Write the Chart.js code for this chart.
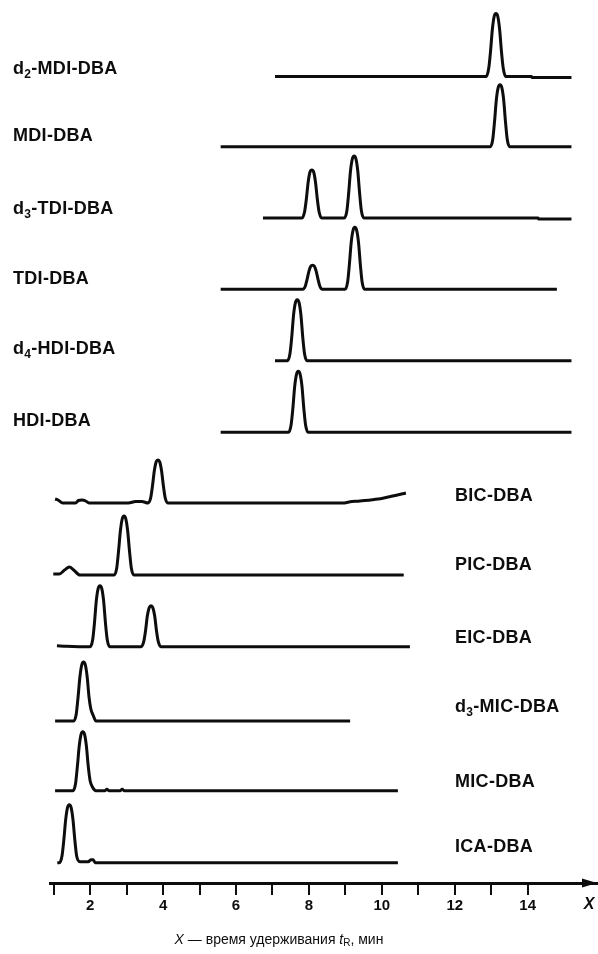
<!DOCTYPE html>
<html><head><meta charset="utf-8">
<script src="https://cdn.jsdelivr.net/npm/chart.js@4.4.1/dist/chart.umd.min.js"></script>
<style>html,body{margin:0;padding:0;background:#fff}canvas{display:block}</style>
</head><body>
<canvas id="c" width="598" height="954"></canvas>
<script>
// ---------------- DATA ----------------
// retention time t_R (min) and detector response (a.u.) for each chromatogram
const compounds = ['d_2-MDI-DBA','MDI-DBA','d_3-TDI-DBA','TDI-DBA','d_4-HDI-DBA','HDI-DBA',
                   'BIC-DBA','PIC-DBA','EIC-DBA','d_3-MIC-DBA','MIC-DBA','ICA-DBA'];

const d2MDI = [[7.07,0],[12.86,0],[12.93,8],[12.98,25],[13.03,47],[13.08,60],[13.13,63],[13.18,60],[13.23,47],[13.28,25],[13.33,8],[13.40,0],[14.10,0],[14.12,-1],[15.20,-1]];
const MDI   = [[5.58,0],[12.97,0],[13.04,7],[13.09,25],[13.14,47],[13.19,59],[13.24,62],[13.29,59],[13.34,47],[13.39,25],[13.44,7],[13.51,0],[15.20,0]];
const d3TDI = [[6.74,0],[7.81,0],[7.88,6],[7.93,19],[7.98,36],[8.03,46],[8.08,48],[8.13,46],[8.18,36],[8.23,19],[8.28,6],[8.35,0],
               [8.97,0],[9.04,7],[9.09,25],[9.14,47],[9.19,59],[9.24,62],[9.29,59],[9.34,47],[9.39,25],[9.44,7],[9.51,0],[14.28,0],[14.30,-1],[15.20,-1]];
const TDI   = [[5.58,0],[7.83,0],[7.90,3],[7.95,10],[8.00,18],[8.05,23],[8.10,24],[8.15,23],[8.20,18],[8.25,10],[8.30,3],[8.37,0],
               [8.99,0],[9.06,7],[9.11,25],[9.16,47],[9.21,59],[9.26,62],[9.31,59],[9.36,47],[9.41,25],[9.46,7],[9.53,0],[14.80,0]];
const d4HDI = [[7.07,0],[7.41,0],[7.48,7],[7.53,24],[7.58,46],[7.63,58],[7.68,61],[7.73,58],[7.78,46],[7.83,24],[7.88,7],[7.95,0],[15.20,0]];
const HDI   = [[5.58,0],[7.44,0],[7.51,7],[7.56,24],[7.61,46],[7.66,58],[7.71,61],[7.76,58],[7.81,46],[7.86,24],[7.91,7],[7.98,0],[15.20,0]];
const BIC   = [[1.04,4],[1.12,3],[1.25,0],[1.60,0],[1.68,2.5],[1.78,3],[1.88,2],[1.97,0],[3.05,0],[3.25,1.5],[3.42,1.5],[3.59,0],
               [3.66,5],[3.71,17],[3.76,32],[3.81,41],[3.86,43],[3.91,41],[3.96,32],[4.01,17],[4.06,5],[4.13,0],
               [8.94,0],[9.10,1],[9.40,2],[9.90,4],[10.30,7],[10.66,10]];
const PIC   = [[0.99,1],[1.15,1],[1.30,5],[1.43,8],[1.55,5],[1.72,0],[2.66,0],[2.73,7],[2.78,24],[2.83,44],[2.88,56],[2.93,59],[2.98,56],[3.03,44],[3.08,24],[3.13,7],[3.20,0],[10.60,0]];
const EIC   = [[1.09,1],[1.35,0.5],[2.00,0],[2.07,7],[2.12,24],[2.17,46],[2.22,58],[2.27,61],[2.32,58],[2.37,46],[2.42,24],[2.47,7],[2.54,0],
               [3.40,0],[3.47,5],[3.52,16],[3.57,31],[3.62,39],[3.67,41],[3.72,39],[3.77,31],[3.82,16],[3.87,5],[3.94,0],[10.77,0]];
const d3MIC = [[1.04,0],[1.55,0],[1.62,7],[1.67,24],[1.72,44],[1.77,56],[1.82,59],[1.87,56],[1.92,44],[1.97,24],[2.02,12],[2.08,6],[2.16,0],[9.13,0]];
const MIC   = [[1.04,0],[1.53,0],[1.60,7],[1.65,24],[1.70,44],[1.75,56],[1.80,59],[1.85,56],[1.90,44],[1.95,24],[2.00,10],[2.06,4],[2.16,0],
               [2.40,0],[2.46,1.5],[2.52,0],[2.82,0],[2.88,1.5],[2.94,0],[10.44,0]];
const ICA   = [[1.10,0],[1.16,0],[1.23,7],[1.28,23],[1.33,43],[1.38,55],[1.43,58],[1.48,55],[1.53,43],[1.58,23],[1.63,7],[1.72,1],
               [1.95,1],[2.02,3],[2.08,3],[2.14,0],[10.44,0]];

const traces = [d2MDI, MDI, d3TDI, TDI, d4HDI, HDI, BIC, PIC, EIC, d3MIC, MIC, ICA];

const tickValues = [1,2,3,4,5,6,7,8,9,10,11,12,13,14];
const tickLabels = ['','2','','4','','6','','8','','10','','12','','14'];
const axisName = 'X';

// ---------------- LAYOUT ----------------
const PLOT_BOTTOM = 883;                       // y-units == px of stacking space
const baselinePx = [76.5,146.7,218,289.3,360.7,432.3,503,575,646.7,721,790.7,862.7];
const labelPos = [[13,69],[13,136],[13,209],[13,279],[13,349],[13,421],
                  [455,496],[455,565],[455,638],[455,707],[455,782],[455,847]];
const LABEL_FONT = 'bold 18px "Liberation Sans", Arial, sans-serif';
const SUB_FONT   = 'bold 12px "Liberation Sans", Arial, sans-serif';
const INK = '#0d0d0d';

const datasets = traces.map((tr, i) => ({
  label: compounds[i].replace('_',''),
  data: tr.map(([t, r]) => ({x: t, y: PLOT_BOTTOM - baselinePx[i] + r})),
  borderColor: INK, borderWidth: 3, pointRadius: 0, fill: false,
  cubicInterpolationMode: 'monotone', borderJoinStyle: 'round', borderCapStyle: 'butt'
}));

function drawName(ctx, name, x, y) {
  const m = name.match(/^(.*?)_(\d)(.*)$/);
  ctx.font = LABEL_FONT;
  if (!m) { ctx.fillText(name, x, y); return; }
  ctx.fillText(m[1], x, y);
  let w = ctx.measureText(m[1]).width;
  ctx.font = SUB_FONT;
  ctx.fillText(m[2], x + w, y + 6);
  w += ctx.measureText(m[2]).width;
  ctx.font = LABEL_FONT;
  ctx.fillText(m[3], x + w, y);
}

const decor = {
  id: 'decor',
  afterDraw(chart) {
    const ctx = chart.ctx, a = chart.chartArea;
    ctx.save();
    ctx.fillStyle = INK;
    ctx.textBaseline = 'middle';
    ctx.textAlign = 'left';
    try { ctx.letterSpacing = '0.3px'; } catch (e) {}
    compounds.forEach((n, i) => drawName(ctx, n, labelPos[i][0], labelPos[i][1]));
    try { ctx.letterSpacing = '0px'; } catch (e) {}
    // arrow head
    const R = a.right, B = a.bottom;
    ctx.beginPath();
    ctx.moveTo(R, B); ctx.lineTo(R - 15, B - 4.5); ctx.lineTo(R - 15, B + 4.5); ctx.closePath(); ctx.fill();
    // axis name
    ctx.font = 'italic bold 16px "Liberation Sans", Arial, sans-serif';
    ctx.textAlign = 'center';
    ctx.fillText(axisName, 589, 905);
    // axis title
    const parts = [
      ['X', 'italic 14px "Liberation Sans", Arial, sans-serif', 0],
      [' \u2014 время удерживания ', '14px "Liberation Sans", Arial, sans-serif', 0],
      ['t', 'italic 14px "Liberation Sans", Arial, sans-serif', 0],
      ['R', '10px "Liberation Sans", Arial, sans-serif', 3],
      [', мин', '14px "Liberation Sans", Arial, sans-serif', 0]
    ];
    let tw = 0;
    parts.forEach(p => { ctx.font = p[1]; tw += ctx.measureText(p[0]).width; });
    let x = 279 - tw / 2;
    ctx.textAlign = 'left';
    parts.forEach(p => { ctx.font = p[1]; ctx.fillText(p[0], x, 940 + p[2]); x += ctx.measureText(p[0]).width; });
    ctx.restore();
  }
};

new Chart(document.getElementById('c'), {
  type: 'line',
  data: { datasets },
  options: {
    responsive: false, animation: false, devicePixelRatio: 1,
    layout: { padding: { left: 50, right: 1, top: 0, bottom: 37 } },
    plugins: { legend: { display: false }, tooltip: { enabled: false }, title: { display: false } },
    scales: {
      x: {
        type: 'linear', min: 0.9, max: 15.9,
        afterBuildTicks: s => { s.ticks = tickValues.map(v => ({value: v})); },
        grid: { display: true, drawOnChartArea: false, drawTicks: true, tickLength: 12, lineWidth: 2, color: INK },
        border: { display: true, width: 3, color: INK },
        ticks: {
          autoSkip: false, maxRotation: 0, padding: 2, color: INK,
          font: { family: '"Liberation Sans", Arial, sans-serif', size: 15, weight: 'bold' },
          callback: v => { const k = tickValues.indexOf(v); return k >= 0 ? tickLabels[k] : ''; }
        }
      },
      y: { type: 'linear', display: false, min: 0, max: PLOT_BOTTOM }
    }
  },
  plugins: [decor]
});
</script>
</body></html>
